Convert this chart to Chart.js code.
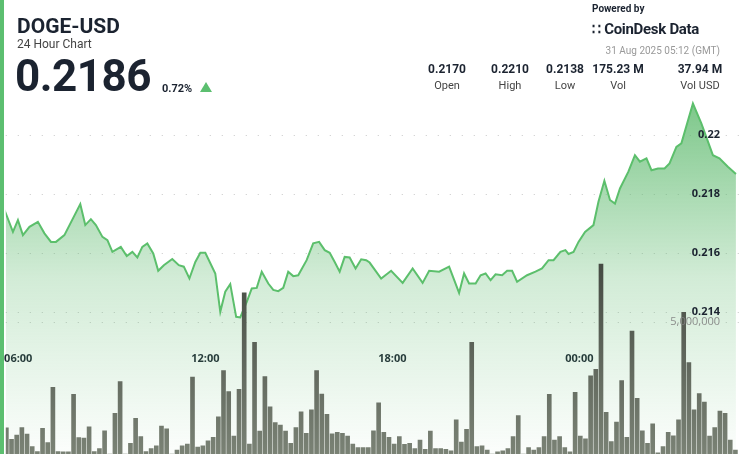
<!DOCTYPE html>
<html><head><meta charset="utf-8">
<script src="https://cdn.jsdelivr.net/npm/chart.js@4/dist/chart.umd.min.js"></script>
<style>
body{margin:0;width:740px;height:454px;overflow:hidden;background:#fff;font-family:Roboto,"Open Sans",sans-serif;position:relative}
#bar{position:absolute;left:0;top:0;width:4px;height:454px;background:#5cbf70;z-index:2}
#c{position:absolute;left:0;top:0}
.t{position:absolute;color:#1b2330;white-space:nowrap}
.st{position:absolute;top:62px;width:70px;text-align:center;color:#1b2330}
.st b{display:block;font-size:12px;font-weight:700}
.st span{display:block;font-size:11px;color:#444;margin-top:3px}
</style></head><body>
<div id="bar"></div>
<canvas id="c" width="740" height="454"></canvas>
<div class="t" style="left:17px;top:14px;font-size:21px;font-weight:700">DOGE-USD</div>
<div class="t" style="left:17px;top:37px;font-size:12px;color:#444">24 Hour Chart</div>
<div class="t" style="left:15px;top:50px;font-size:44px;font-weight:700;letter-spacing:-0.5px">0.2186</div>
<div class="t" style="left:162px;top:82px;font-size:11px;font-weight:700">0.72%</div>
<div class="t" style="left:200px;top:82px;width:0;height:0;border-left:6px solid transparent;border-right:6px solid transparent;border-bottom:10px solid #5cbf70"></div>
<div class="t" style="left:592px;top:3px;font-size:10px;font-weight:700">Powered by</div>
<div class="t" style="left:592px;top:20px;font-size:15px;font-weight:700;letter-spacing:-0.3px"><span style="font-size:14px">&#x2237;</span> CoinDesk Data</div>
<div class="t" style="right:20px;top:45px;font-size:10px;color:#999">31 Aug 2025 05:12 (GMT)</div>
<div class="st" style="left:412px"><b>0.2170</b><span>Open</span></div>
<div class="st" style="left:475px"><b>0.2210</b><span>High</span></div>
<div class="st" style="left:530px"><b>0.2138</b><span>Low</span></div>
<div class="st" style="left:583px"><b>175.23 M</b><span>Vol</span></div>
<div class="st" style="left:665px"><b>37.94 M</b><span>Vol USD</span></div>
<script>
const priceHours=[5.56,5.83,5.99,6.15,6.36,6.63,6.84,7.05,7.21,7.48,7.99,8.15,8.33,8.49,8.70,8.86,9.02,9.29,9.48,9.66,9.82,9.98,10.14,10.33,10.49,10.67,10.94,11.15,11.31,11.49,11.68,11.84,12.00,12.32,12.48,12.64,12.80,12.99,13.12,13.33,13.49,13.65,13.81,14.02,14.18,14.34,14.50,14.66,14.82,14.98,15.25,15.46,15.65,15.83,15.99,16.15,16.31,16.47,16.63,16.82,17.00,17.16,17.27,17.64,17.96,18.33,18.65,18.97,19.18,19.50,19.82,20.14,20.30,20.46,20.67,20.83,20.99,21.15,21.31,21.52,21.68,21.84,22.00,22.32,22.59,22.80,23.01,23.17,23.39,23.55,23.65,23.81,23.97,24.18,24.45,24.61,24.80,24.98,25.14,25.30,25.57,25.78,25.94,26.15,26.31,26.52,26.73,26.89,27.11,27.27,27.64,27.91,28.28,28.49,28.76,29.02];
const priceValues=[0.21746,0.21672,0.21712,0.21661,0.21689,0.21706,0.21667,0.21638,0.21638,0.21661,0.21766,0.21695,0.21715,0.21695,0.21655,0.21644,0.21604,0.21621,0.21590,0.21604,0.21585,0.21621,0.21633,0.21599,0.21540,0.21559,0.21580,0.21559,0.21554,0.21514,0.21570,0.21601,0.21601,0.21531,0.21401,0.21469,0.21495,0.21384,0.21382,0.21435,0.21480,0.21482,0.21537,0.21497,0.21475,0.21471,0.21482,0.21537,0.21522,0.21525,0.21576,0.21633,0.21638,0.21610,0.21601,0.21570,0.21537,0.21587,0.21585,0.21548,0.21579,0.21576,0.21568,0.21514,0.21540,0.21499,0.21548,0.21499,0.21540,0.21537,0.21554,0.21465,0.21531,0.21497,0.21497,0.21525,0.21531,0.21508,0.21528,0.21525,0.21540,0.21540,0.21503,0.21525,0.21537,0.21548,0.21576,0.21576,0.21604,0.21610,0.21597,0.21604,0.21638,0.21672,0.21695,0.21774,0.21845,0.21780,0.21768,0.21819,0.21876,0.21932,0.21910,0.21921,0.21881,0.21887,0.21887,0.21904,0.21960,0.21972,0.22107,0.22040,0.21932,0.21921,0.21893,0.21868];
const volumeMillions=[0.99,0.56,0.72,1.0,0.75,0.28,0.09,0.97,0.43,2.53,0.09,0.08,0.08,2.26,0.62,0.6,1.03,0.09,0.21,0.88,0,1.54,2.74,0,0.4,1.35,0.66,0.09,0.21,0.31,1.06,0.95,0,0.15,0.31,0.38,2.91,0.26,0.31,0.5,0.63,1.41,3.16,2.36,0.68,2.45,6.11,0.38,4.23,0.87,2.93,1.79,1.19,1.1,0.87,0.4,1.0,1.6,0.78,1.67,3.16,2.27,1.5,0.76,0.82,0.78,0.68,0.38,0.24,0.24,0.24,
0.88,1.94,0.82,0.63,0.38,0.66,0.37,0.4,0.21,0.53,0.18,0.87,0.21,0.21,0.18,0.12,1.29,0.45,0.93,4.23,0.28,0.31,0.15,0,0.08,0.12,0.21,0.66,1.46,0,0.24,0.15,0.24,0.66,2.26,0.53,0.66,0.24,0.08,2.34,0.68,0.57,2.96,3.21,7.19,1.58,0.47,1.21,2.78,0.63,4.66,2.11,0.88,0.4,1.14,0.04,0.28,0.82,0.69,1.29,5.37,3.46,1.67,2.29,1.97,0.68,1.0,1.63,1.54,0.53,0.15];
const timeTicks=[6,12,18,24];
const timeLabels=["06:00","12:00","18:00","00:00"];
const priceTicks=[0.214,0.216,0.218,0.22];
const volumeTicks=[5e6];

const ctx=document.getElementById('c').getContext('2d');
const dash={color:'#c8c8c8',lineWidth:1,drawTicks:false};
const labelPlugin={id:'lbl',afterDatasetsDraw(ch){
  const c=ch.ctx,a=ch.chartArea;c.save();c.textAlign='right';c.textBaseline='middle';
  c.font='bold 11px "Open Sans"';c.fillStyle='#1b2330';
  priceTicks.forEach(v=>c.fillText(String(v),a.right-20,ch.scales.y.getPixelForValue(v)));
  c.font='11px "Open Sans"';c.fillStyle='rgba(130,130,130,0.9)';
  volumeTicks.forEach(v=>c.fillText(v.toLocaleString('en-US'),a.right-20,ch.scales.yv.getPixelForValue(v)));
  c.restore();}};
new Chart(ctx,{
 data:{labels:volumeMillions.map((v,i)=>i),datasets:[
  {type:'bar',order:0,xAxisID:'xb',yAxisID:'yv',data:volumeMillions.map(v=>v*1e6),
   backgroundColor:(c)=>{const a=c.chart.chartArea;if(!a)return '#5b6257';const g=c.chart.ctx.createLinearGradient(0,260,0,a.bottom);g.addColorStop(0,'#444a42');g.addColorStop(1,'#7a8275');return g;},
   barThickness:4},
  {type:'line',order:1,xAxisID:'x',yAxisID:'y',data:priceHours.map((h,i)=>({x:h,y:priceValues[i]})),
   borderColor:'#5cbf6c',borderWidth:2,pointRadius:0,tension:0,fill:'start',
   backgroundColor:(c)=>{const a=c.chart.chartArea;if(!a)return 'rgba(92,191,108,0.3)';const g=c.chart.ctx.createLinearGradient(0,a.top,0,a.bottom);g.addColorStop(0,'rgba(92,185,108,0.8)');g.addColorStop(0.5,'rgba(92,185,108,0.28)');g.addColorStop(1,'rgba(92,185,108,0.02)');return g;}}
 ]},
 options:{responsive:false,animation:false,
  layout:{padding:{top:100,left:5,right:0,bottom:0}},
  plugins:{legend:{display:false},tooltip:{enabled:false}},
  scales:{
   xb:{type:'category',display:false,offset:true},
   x:{type:'linear',min:5.6,max:29.15,position:{y:0.21305},
      afterBuildTicks:s=>{s.ticks=timeTicks.map(v=>({value:v}));},
      afterFit:s=>{s.height=0;},
      ticks:{callback:(v)=>timeLabels[timeTicks.indexOf(v)],color:'#1b2330',font:{family:'Open Sans',size:11,weight:'bold'},padding:4,maxRotation:0},
      grid:{display:false},border:{display:false}},
   y:{type:'linear',position:'right',min:0.20919,max:0.22119,
      afterBuildTicks:s=>{s.ticks=priceTicks.map(v=>({value:v}));},
      afterFit:s=>{s.width=0;},
      ticks:{display:false},
      grid:{...dash},border:{display:false,dash:[1,11]}},
   yv:{type:'linear',position:'right',min:0,max:13.41e6,
      afterBuildTicks:s=>{s.ticks=volumeTicks.map(v=>({value:v}));},
      afterFit:s=>{s.width=0;},
      ticks:{display:false},
      grid:{...dash},border:{display:false,dash:[1,11]}}
  }
 },
 plugins:[labelPlugin]
});
</script>
</body></html>
